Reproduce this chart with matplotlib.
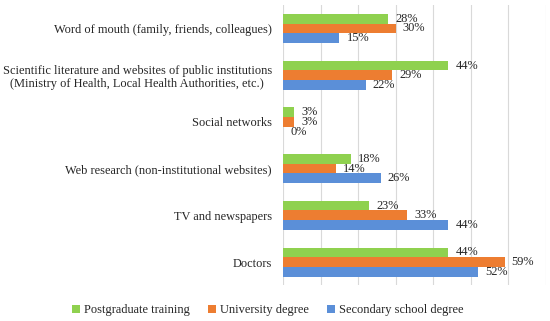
import numpy as np
import matplotlib
matplotlib.use("Agg")
import matplotlib.pyplot as plt

# data, top to bottom as in the chart
categories = [
    "Word of mouth (family, friends, colleagues)",
    "Scientific literature and websites of public institutions\n(Ministry of Health, Local Health Authorities, etc.)",
    "Social networks",
    "Web research (non-institutional websites)",
    "TV and newspapers",
    "Doctors",
]
series_names = ["Postgraduate training", "University degree", "Secondary school degree"]
postgraduate = [28, 44, 3, 18, 23, 44]
university = [30, 29, 3, 14, 33, 59]
secondary = [15, 22, 0, 26, 44, 52]

colors = ["#8FD14F", "#ED7D31", "#5B8FD8"]

plt.rcParams["font.family"] = ["Liberation Serif", "DejaVu Serif"]
fs = 8.9

fig = plt.figure(figsize=(5.5, 3.21), dpi=100)
ax = fig.add_axes([0.5145, 0.111, 0.478, 0.873])

y = np.arange(len(categories))
h = 0.207
for i, (vals, c, name) in enumerate(zip([postgraduate, university, secondary],
                                        colors, series_names)):
    yy = y + (i - 1) * h
    ax.barh(yy, vals, height=h, color=c, label=name, zorder=3)
    for v, yv in zip(vals, yy):
        ax.text(v + 1.9, yv, f"{v}%", va="center", ha="left",
                fontsize=fs, color="#262626", zorder=4)

ax.set_xlim(0, 70)
ax.set_ylim(len(categories) - 0.5, -0.5)
ax.set_xticks(np.arange(0, 71, 10))
ax.set_xticklabels([])
ax.tick_params(axis="both", length=0)
ax.set_yticks(y)
ax.set_yticklabels(categories, fontsize=fs, color="#262626",
                   multialignment="center")
ax.tick_params(axis="y", pad=8)
ax.grid(axis="x", color="#D9D9D9", linewidth=0.8, zorder=0)
for s in ax.spines.values():
    s.set_visible(False)

fig.legend(loc="center", bbox_to_anchor=(0.487, 1 - 310 / 321), ncol=3,
           frameon=False, fontsize=fs, handlelength=0.65, handleheight=0.65,
           handletextpad=0.3, columnspacing=1.5, labelcolor="#262626")

fig.savefig("out.png", dpi=100)
